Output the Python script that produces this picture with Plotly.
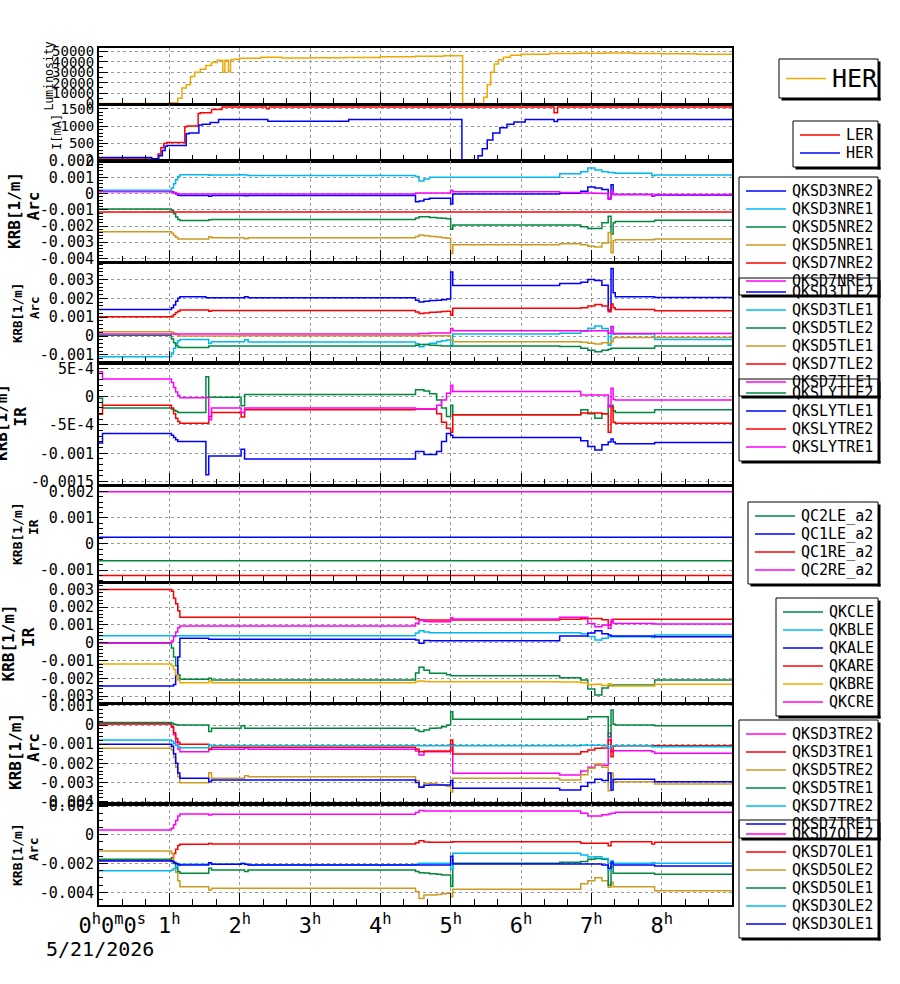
import plotly.graph_objects as go

# ---------------------------------------------------------------- data
HOUR_TICKS = [0, 1, 2, 3, 4, 5, 6, 7, 8]
HOUR_LABELS = ["\u00a0\u00a00<sup>h</sup>0<sup>m</sup>0<sup>s</sup>", "1<sup>h</sup>", "2<sup>h</sup>",
               "3<sup>h</sup>", "4<sup>h</sup>", "5<sup>h</sup>", "6<sup>h</sup>", "7<sup>h</sup>", "8<sup>h</sup>"]
DATE_LABEL = "5/21/2026"

# luminosity (hours / value)
LUMI_T = [0, 1.0, 1.12, 1.18, 1.24, 1.3, 1.36, 1.44, 1.52, 1.6, 1.68, 1.76, 1.79, 1.84, 1.87, 1.92, 2.0,
          2.3, 2.6, 3.0, 3.5, 4.0, 4.5, 4.9, 5.17, 5.47, 5.52, 5.57, 5.62, 5.68, 5.75, 5.85, 6.0, 6.4,
          6.8, 7.2, 7.6, 8.0, 8.5, 9.0]
LUMI_HER = [0, 700, 5000, 15000, 18000, 26000, 30000, 33000, 36500, 39500, 41500, 30000, 41500, 30500,
            42000, 42500, 43500, 44500, 43800, 44000, 44300, 45000, 45500, 46000, 0, 6000, 18000, 30000,
            38000, 42000, 44500, 46500, 47500, 48000, 48300, 48500, 48000, 47800, 47500, 47500]

# beam currents [mA]
LER_T = [0, 0.84, 0.88, 0.92, 0.96, 1.22, 1.25, 1.41, 1.44, 1.6, 1.75, 2.38, 2.42, 6.47, 6.52, 9.0]
LER_MA = [55, 200, 380, 500, 530, 980, 1000, 1360, 1380, 1473, 1550, 1500, 1550, 1380, 1550, 1550]
HER_T = [0, 0.75, 0.85, 0.9, 0.94, 0.97, 1.24, 1.28, 1.42, 1.47, 1.58, 1.7, 2.4, 3.55, 5.16, 5.39, 5.45,
         5.52, 5.6, 5.7, 5.8, 5.9, 6.06, 6.47, 6.52, 9.0]
HER_MA = [100, 60, 150, 300, 420, 445, 780, 800, 1030, 1050, 1100, 1190, 1140, 1190, 30, 150, 350, 600,
          800, 950, 1050, 1120, 1190, 1130, 1190, 1190]

# shared time grid (hours) for magnet strengths; values below are in units of 1e-4 [1/m]
G = [0.00, 0.05, 1.00, 1.03, 1.06, 1.09, 1.12, 1.15,
     1.52, 1.56, 1.60,
     2.02, 2.07, 2.12,
     4.50, 4.55, 4.62, 4.70, 4.80, 4.87, 4.94,
     5.00, 5.03, 5.06,
     6.55, 6.85, 6.95, 7.05, 7.15,
     7.24, 7.28, 7.31, 7.34,
     7.86, 7.90, 9.00]
T_FLAT = [0.0, 9.0]
KRB_UNIT = 1e-4

# panel 3 : Arc NRE
QKSD3NRE2 = [1.7, 1.7, 1.7, 1.2, 0.5, -0.3, -1.0, -1.2, -1.2, -1.6, -1.2, -1.2, -1.4, -1.2,
             -5.0, -4.5, -3.5, -2.9, -2.9, -2.9, -2.9, -6.5, -0.3, -0.3, 0.2, 1.5, 4.0, 3.5, 2.5,
             -2.9, 5.5, -0.6, -0.6, -1.5, -0.8, -0.8]
QKSD3NRE1 = [2.1, 2.1, 2.1, 3.5, 6.0, 8.5, 10.5, 11.6, 11.6, 11.3, 11.4, 11.6, 11.4, 11.1,
             10.5, 7.7, 9.0, 10.1, 10.1, 10.1, 10.1, 10.1, 10.1, 10.1, 12.2, 13.5, 15.8, 14.5, 13.5,
             13.0, 13.0, 12.8, 12.5, 11.0, 11.5, 11.5]
QKSD5NRE2 = [-9.5, -9.5, -9.5, -10.5, -12.5, -14.5, -16.0, -16.6, -16.6, -16.2, -16.0, -16.0, -16.0, -16.0,
             -15.0, -14.3, -14.3, -14.8, -15.0, -15.2, -15.5, -22.0, -19.4, -19.4, -19.4, -20.5, -21.6, -21.6,
             -18.0, -14.0, -25.0, -18.0, -17.2, -17.2, -16.5, -16.5]
QKSD5NRE1 = [-23.6, -23.6, -23.6, -24.5, -25.8, -27.0, -28.0, -28.0, -28.0, -26.6, -27.2, -27.2, -27.8, -27.2,
             -26.5, -25.6, -26.0, -26.5, -26.8, -27.2, -27.6, -37.0, -31.6, -31.6, -31.0, -31.5, -32.5, -33.0,
             -30.5, -24.0, -36.5, -29.0, -28.4, -28.4, -28.0, -28.0]
QKSD7NRE2 = [-11.3, -11.3]
QKSD7NRE1 = [1.1, 1.1, 1.1, 1.0, 0.6, 0.2, -0.2, -0.3, -0.3, -0.3, -0.3, -0.3, -0.3, -0.3,
             0.4, 0.4, 0.4, 0.4, 0.4, 0.4, 0.4, 2.1, 1.1, 1.1, 0.6, 0.4, 0.4, 0.2, 0.0,
             -3.5, 1.5, -0.5, -0.6, -1.2, -0.6, -0.6]

# panel 4 : Arc TLE
QKSD3TLE2 = [14.1, 14.1, 14.1, 15.0, 16.5, 18.5, 20.0, 20.8, 20.3, 20.3, 20.3, 20.3, 20.8, 20.3,
             19.0, 18.1, 18.5, 18.8, 19.0, 19.3, 19.6, 34.0, 26.8, 26.8, 27.9, 28.5, 30.0, 29.5, 27.0,
             13.8, 35.8, 23.0, 20.8, 20.8, 20.5, 20.5]
QKSD3TLE1 = [-10.9, -10.9, -10.9, -9.0, -6.5, -4.0, -2.5, -1.8, -1.8, -3.9, -3.0, -3.0, -2.0, -3.2,
             -4.0, -5.6, -4.5, -3.8, -3.0, -2.5, -2.1, -5.0, 1.1, 1.1, 1.5, 2.5, 4.1, 5.3, 4.0,
             -4.8, 5.0, 1.0, 1.1, 1.1, -1.8, -1.8]
QKSD5TLE2 = [0.5, 0.5, 0.5, -1.5, -3.5, -5.0, -5.8, -6.0, -6.0, -5.3, -5.3, -5.3, -5.3, -5.3,
             -4.8, -4.4, -4.5, -4.8, -5.0, -5.2, -5.3, -5.3, -5.3, -5.3, -5.5, -6.5, -7.5, -8.3, -7.5,
             -7.0, -6.5, -6.4, -6.5, -6.5, -5.3, -5.3]
QKSD5TLE1 = [2.3, 2.3, 2.3, 2.0, 1.5, 0.8, 0.2, 0.0, 0.0, 0.0, 0.0, 0.2, 0.2, 0.2,
             0.2, 0.2, 0.2, 0.2, 0.2, 0.2, 0.2, -2.0, -3.0, -3.0, -3.0, -3.3, -3.8, -4.2, -3.5,
             -3.9, -3.0, -1.0, -0.7, -0.7, -0.7, -0.7]
QKSD7TLE2 = [10.2, 10.2, 10.2, 10.6, 11.5, 12.5, 13.2, 13.8, 13.8, 13.2, 13.6, 13.6, 13.6, 13.6,
             12.8, 12.0, 12.3, 12.6, 12.8, 13.0, 13.2, 11.1, 14.7, 14.7, 14.7, 15.0, 16.0, 16.8, 16.0,
             12.9, 17.0, 15.0, 14.1, 14.1, 13.4, 13.4]
QKSD7TLE1 = [1.1, 1.1, 1.1, 1.1, 1.1, 1.1, 1.1, 1.1, 1.1, 1.1, 1.1, 1.1, 1.1, 1.1,
             1.1, 1.4, 1.4, 1.6, 1.6, 1.6, 1.6, 4.0, 2.8, 2.8, 2.8, 2.8, 2.8, 2.8, 2.8,
             1.5, 5.1, 1.4, 1.4, 1.4, 1.4, 1.4]

# panel 5 : IR skew
QKSLYTLE2 = [-0.3, -2.0, -2.0, -2.2, -2.4, -2.6, -2.8, -2.8, 3.5, -0.1, -0.1, -1.6, 0.4, 0.4,
             1.2, 1.2, 1.0, 0.5, -0.6, -2.0, -3.5, -1.5, -3.2, -3.2, -3.2, -2.3, -3.0, -3.8, -3.0,
             -1.5, -1.5, -2.5, -2.8, -2.8, -2.3, -2.3]
QKSLYTLE1 = [-8.2, -6.5, -6.5, -6.8, -7.2, -7.6, -7.9, -7.9, -13.8, -10.5, -10.5, -9.3, -11.0, -11.0,
             -9.7, -9.7, -10.2, -10.2, -9.7, -7.9, -6.5, -6.8, -7.2, -7.2, -7.2, -7.8, -8.8, -9.4, -8.5,
             -8.0, -7.5, -8.0, -8.3, -8.3, -8.1, -8.1]
QKSLYTRE2 = [-3.1, -1.5, -1.5, -2.0, -3.0, -3.8, -4.4, -4.7, -4.7, -3.5, -2.8, -3.6, -2.3, -2.3,
             -2.2, -2.2, -2.2, -2.2, -3.0, -4.5, -5.6, -6.3, -3.2, -3.2, -3.2, -2.9, -2.9, -2.9, -3.0,
             -6.3, -1.8, -4.5, -4.7, -4.7, -4.7, -4.7]
QKSLYTRE1 = [4.4, 3.1, 3.1, 2.5, 1.6, 0.8, 0.2, -0.2, -0.2, -4.1, -2.0, -2.8, -2.0, -2.0,
             -2.2, -2.2, -2.2, -2.2, -1.5, -0.6, 0.6, 2.0, 0.9, 0.9, 0.9, 0.3, 0.3, 0.3, 0.3,
             -1.8, 1.5, -0.5, -0.6, -0.6, -0.6, -0.6]

# panel 6 : IR final-focus correctors (constant)
QC2LE_a2 = [-6.5, -6.5]
QC1LE_a2 = [2.6, 2.6]
QC1RE_a2 = [-12.1, -12.1]
QC2RE_a2 = [20.0, 20.0]

# panel 7 : IR QK
QKCLE = [0, 0, 0, -3, -8, -13, -18, -20.6, -20.6, -20.0, -21.0, -21.0, -21.0, -21.0,
         -17.0, -13.8, -15.5, -17.2, -17.2, -17.2, -18.0, -18.5, -18.5, -18.5, -19.7, -21.0, -26.0, -29.4,
         -25.5, -24.0, -24.0, -23.8, -23.8, -23.8, -21.0, -21.0]
QKBLE = [4.0, 4.0, 4.0, 4.0, 4.0, 4.0, 4.0, 4.0, 4.0, 4.0, 4.0, 4.0, 4.0, 4.0,
         5.5, 6.7, 6.0, 5.6, 5.6, 5.6, 5.6, 5.6, 5.6, 5.6, 5.6, 5.0, 3.5, 1.5, 2.5,
         3.4, 3.4, 3.4, 3.4, 3.0, 4.3, 4.3]
QKALE = [-24.4, -24.4, -24.4, -24.4, -23.5, -18.0, -8.0, 2.5, 2.5, 2.0, 1.9, 1.9, 1.9, 1.9,
         1.5, -0.3, 1.2, 1.1, 1.1, 1.1, 1.1, 1.1, 1.1, 1.1, 3.8, 3.8, 5.5, 6.7, 5.0,
         4.3, 3.8, 3.8, 3.8, 3.8, 3.4, 3.4]
QKARE = [30, 30, 30, 29, 25, 22, 18, 14.3, 14.3, 14.3, 14.3, 14.3, 14.3, 14.3,
         13.5, 12.8, 12.8, 12.8, 12.8, 12.8, 12.8, 12.8, 12.8, 12.8, 13.2, 13.5, 13.7, 13.7, 13.0,
         10.0, 12.0, 13.2, 13.2, 13.2, 13.2, 13.2]
QKBRE = [-12.0, -12.0, -12.0, -13.0, -15.0, -18.0, -21.0, -22.5, -22.5, -21.5, -22.5, -22.5, -22.5, -22.5,
         -21.8, -21.5, -21.8, -22.0, -22.0, -22.0, -22.0, -22.0, -22.0, -22.0, -22.1, -22.5, -23.5, -23.4,
         -24.0, -23.0, -24.4, -24.4, -24.4, -24.4, -23.4, -23.4]
QKCRE = [-0.3, -0.3, -0.3, 1.0, 3.5, 6.0, 8.5, 9.4, 9.4, 9.4, 9.4, 9.4, 9.4, 9.4,
         11.0, 12.8, 12.0, 11.8, 11.8, 11.8, 11.8, 14.0, 13.3, 13.3, 14.3, 14.3, 10.9, 9.0, 10.0,
         8.1, 13.0, 10.9, 10.9, 10.9, 10.5, 10.5]

# panel 8 : Arc TRE
QKSD3TRE2 = [0.9, 0.9, 0.9, -1.0, -5.0, -9.0, -12.5, -13.9, -13.9, -12.8, -12.6, -12.6, -12.0, -12.6,
             -13.5, -15.6, -14.0, -13.9, -13.9, -13.9, -13.9, -10.0, -25.2, -25.2, -26.1, -24.0, -22.0, -20.9,
             -21.0, -4.3, -14.0, -13.4, -13.4, -14.0, -14.7, -14.7]
QKSD3TRE1 = [0.6, 0.6, 0.6, -1.0, -4.0, -7.0, -9.0, -10.0, -10.0, -12.5, -11.6, -11.6, -11.6, -11.6,
             -12.5, -13.9, -13.5, -13.5, -13.5, -13.5, -13.5, -7.8, -15.1, -15.1, -15.1, -14.0, -13.0, -12.1,
             -12.0, -7.8, -16.5, -11.0, -10.8, -10.8, -10.8, -10.8]
QKSD5TRE2 = [-12.1, -12.1, -12.1, -13.0, -17.0, -22.0, -27.0, -30.1, -30.1, -24.9, -27.8, -27.8, -26.5, -27.0,
             -29.0, -32.2, -30.5, -30.5, -31.0, -31.5, -32.0, -35.0, -27.8, -27.8, -28.7, -26.0, -22.5, -20.3,
             -22.0, -34.3, -25.0, -30.0, -29.6, -29.6, -30.8, -30.8]
QKSD5TRE1 = [1.3, 1.3, 1.3, 1.0, 0.5, 0.2, 0.0, 0.0, 0.0, -3.4, -1.7, -0.3, -1.7, -1.7,
             -2.5, -3.4, -2.5, -1.7, -1.5, -0.8, 0.0, 7.0, 3.0, 3.0, 3.0, 3.0, 4.4, 4.4, 4.4,
             -6.1, 7.9, 0.5, 0.0, 0.0, -0.3, -0.3]
QKSD7TRE2 = [-7.8, -7.8, -7.8, -8.5, -9.5, -10.5, -11.3, -11.8, -11.8, -10.4, -10.8, -10.8, -10.8, -10.8,
             -10.8, -10.8, -10.8, -10.8, -10.8, -10.8, -10.8, -10.8, -10.8, -10.8, -10.8, -10.6, -10.5, -10.5,
             -10.8, -12.0, -10.8, -10.8, -10.8, -11.3, -11.3, -11.3]
QKSD7TRE1 = [-10.0, -10.0, -10.0, -11.0, -15.0, -20.0, -25.0, -27.8, -27.8, -29.6, -28.7, -28.7, -28.7, -28.7,
             -30.0, -32.5, -31.5, -31.3, -31.3, -31.3, -31.3, -29.0, -33.0, -33.0, -33.9, -32.0, -30.0, -28.3,
             -29.0, -25.0, -34.0, -28.5, -28.3, -28.3, -29.6, -29.6]

# panel 9 : Arc OLE
QKSD7OLE2 = [3.3, 3.3, 3.3, 4.5, 7.0, 10.0, 13.0, 14.5, 14.5, 13.8, 14.3, 14.3, 14.3, 14.3,
             15.5, 16.8, 16.5, 16.6, 16.6, 16.6, 16.6, 16.6, 16.6, 16.6, 16.6, 15.0, 13.1, 13.1, 14.0,
             14.5, 15.0, 15.0, 15.6, 15.6, 15.6, 15.6]
QKSD7OLE1 = [-17.5, -17.5, -17.5, -16.0, -13.0, -10.0, -7.5, -6.6, -6.6, -6.0, -6.4, -6.4, -6.4, -6.4,
             -5.5, -4.1, -5.0, -5.2, -5.2, -5.2, -5.2, -5.2, -4.8, -4.8, -4.8, -5.9, -5.9, -5.9, -5.9,
             -7.6, -4.8, -4.8, -4.8, -6.4, -5.2, -5.2]
QKSD5OLE2 = [-11.3, -11.3, -11.3, -13.0, -19.0, -26.0, -32.0, -36.1, -36.1, -38.4, -37.2, -37.2, -37.2, -37.2,
             -39.5, -44.2, -41.9, -41.9, -41.5, -41.0, -40.7, -43.0, -37.9, -37.9, -37.9, -34.0, -32.0, -29.8,
             -32.0, -36.5, -33.0, -36.1, -36.1, -36.1, -38.9, -38.9]
QKSD5OLE1 = [-17.0, -17.0, -17.0, -18.0, -20.0, -23.0, -25.5, -26.8, -26.8, -23.3, -24.5, -24.5, -25.5, -24.5,
             -25.5, -26.3, -26.5, -27.0, -27.5, -28.0, -28.0, -36.0, -19.8, -19.8, -19.0, -18.5, -17.0, -16.4,
             -17.0, -34.9, -22.0, -26.8, -26.8, -26.8, -27.5, -27.5]
QKSD3OLE2 = [-25.0, -25.0, -25.0, -24.5, -23.5, -22.5, -21.3, -20.5, -20.5, -19.4, -20.5, -20.0, -20.5, -21.0,
             -20.5, -19.8, -19.8, -19.8, -19.8, -19.8, -19.8, -24.0, -12.9, -12.9, -12.9, -14.0, -15.5, -15.2,
             -16.5, -24.5, -18.0, -19.8, -19.8, -19.5, -19.8, -19.8]
QKSD3OLE1 = [-18.2, -18.2, -18.2, -18.5, -19.2, -20.0, -20.6, -21.0, -21.0, -19.4, -20.5, -20.0, -20.5, -21.0,
             -21.0, -21.0, -21.0, -21.0, -21.0, -21.0, -21.0, -15.0, -20.3, -20.3, -20.3, -20.3, -20.3, -20.3,
             -21.0, -23.3, -19.0, -21.0, -21.0, -21.0, -21.7, -21.7]

# y tick values / labels
LUMI_TICKS = [0, 10000, 20000, 30000, 40000, 50000]
LUMI_LABELS = ["0", "10000", "20000", "30000", "40000", "50000"]
CUR_TICKS = [0, 500, 1000, 1500]
CUR_LABELS = ["0", "500", "1000", "1500"]
P3_TICKS = [-0.004, -0.003, -0.002, -0.001, 0, 0.001, 0.002]
P3_LABELS = ["-0.004", "-0.003", "-0.002", "-0.001", "0", "0.001", "0.002"]
P4_TICKS = [-0.001, 0, 0.001, 0.002, 0.003]
P4_LABELS = ["-0.001", "0", "0.001", "0.002", "0.003"]
P5_TICKS = [-0.0015, -0.001, -0.0005, 0, 0.0005]
P5_LABELS = ["-0.0015", "-0.001", "-5E-4", "0", "5E-4"]
P6_TICKS = [-0.001, 0, 0.001, 0.002]
P6_LABELS = ["-0.001", "0", "0.001", "0.002"]
P7_TICKS = [-0.003, -0.002, -0.001, 0, 0.001, 0.002, 0.003]
P7_LABELS = ["-0.003", "-0.002", "-0.001", "0", "0.001", "0.002", "0.003"]
P8_TICKS = [-0.004, -0.003, -0.002, -0.001, 0, 0.001]
P8_LABELS = ["-0.004", "-0.003", "-0.002", "-0.001", "0", "0.001"]
P9_TICKS = [-0.004, -0.002, 0, 0.002]
P9_LABELS = ["-0.004", "-0.002", "0", "0.002"]

# ---------------------------------------------------------------- styling / layout
W, H = 900, 984
X0, X1 = 99, 732
MONO = "DejaVu Sans Mono"
BLUE, CYAN, GREEN, GOLD = "#0000ff", "#00b8f0", "#00883f", "#cc9a20"
RED, MAG, ORANGE = "#ff0000", "#ff00ff", "#f0a800"


def fx(px):
    return px / W


def fy(py):
    return 1 - py / H


def k(vals):
    return [v * KRB_UNIT for v in vals]


panels = [
    dict(top=48, bot=104, rng=[-500, 53400], tv=LUMI_TICKS, tt=LUMI_LABELS, minor=5000, fs=14,
         traces=[("HER", ORANGE, LUMI_T, LUMI_HER)],
         leg=dict(left=779, top=59, fs=25, first=19.5, pad=19.5)),
    dict(top=104.5, bot=161, rng=[-3, 1620], tv=CUR_TICKS, tt=CUR_LABELS, minor=100, fs=14,
         traces=[("LER", RED, LER_T, LER_MA), ("HER", BLUE, HER_T, HER_MA)],
         leg=dict(left=793, top=121, fs=15, first=14, pad=14)),
    dict(top=161, bot=262, rng=[-0.00422, 0.00201], tv=P3_TICKS, tt=P3_LABELS, minor=0.0002, fs=15,
         traces=[("QKSD3NRE2", BLUE, G, k(QKSD3NRE2)), ("QKSD3NRE1", CYAN, G, k(QKSD3NRE1)),
                 ("QKSD5NRE2", GREEN, G, k(QKSD5NRE2)), ("QKSD5NRE1", GOLD, G, k(QKSD5NRE1)),
                 ("QKSD7NRE2", RED, T_FLAT, k(QKSD7NRE2)), ("QKSD7NRE1", MAG, G, k(QKSD7NRE1))],
         leg=dict(left=739, top=177, fs=15, first=14, pad=14)),
    dict(top=262.5, bot=362.5, rng=[-0.0014, 0.0039], tv=P4_TICKS, tt=P4_LABELS, minor=0.0002, fs=15,
         traces=[("QKSD3TLE2", BLUE, G, k(QKSD3TLE2)), ("QKSD3TLE1", CYAN, G, k(QKSD3TLE1)),
                 ("QKSD5TLE2", GREEN, G, k(QKSD5TLE2)), ("QKSD5TLE1", GOLD, G, k(QKSD5TLE1)),
                 ("QKSD7TLE2", RED, G, k(QKSD7TLE2)), ("QKSD7TLE1", MAG, G, k(QKSD7TLE1))],
         leg=dict(left=739, top=278, fs=15, first=14, pad=14)),
    dict(top=363, bot=485, rng=[-0.00156, 0.000594], tv=P5_TICKS, tt=P5_LABELS, minor=0.0001, fs=15,
         traces=[("QKSLYTLE2", GREEN, G, k(QKSLYTLE2)), ("QKSLYTLE1", BLUE, G, k(QKSLYTLE1)),
                 ("QKSLYTRE2", RED, G, k(QKSLYTRE2)), ("QKSLYTRE1", MAG, G, k(QKSLYTRE1))],
         leg=dict(left=739, top=379, fs=15, first=14, pad=14)),
    dict(top=485.5, bot=582, rng=[-0.00146, 0.00224], tv=P6_TICKS, tt=P6_LABELS, minor=0.0002, fs=15,
         traces=[("QC2LE_a2", GREEN, T_FLAT, k(QC2LE_a2)), ("QC1LE_a2", BLUE, T_FLAT, k(QC1LE_a2)),
                 ("QC1RE_a2", RED, T_FLAT, k(QC1RE_a2)), ("QC2RE_a2", MAG, T_FLAT, k(QC2RE_a2))],
         leg=dict(left=748, top=502, fs=15, first=14, pad=14)),
    dict(top=582.5, bot=703, rng=[-0.00339, 0.00339], tv=P7_TICKS, tt=P7_LABELS, minor=0.0002, fs=15,
         traces=[("QKCLE", GREEN, G, k(QKCLE)), ("QKBLE", CYAN, G, k(QKBLE)), ("QKALE", BLUE, G, k(QKALE)),
                 ("QKARE", RED, G, k(QKARE)), ("QKBRE", ORANGE, G, k(QKBRE)), ("QKCRE", MAG, G, k(QKCRE))],
         leg=dict(left=776, top=598, fs=15, first=14, pad=14)),
    dict(top=703.5, bot=803.5, rng=[-0.0041, 0.00113], tv=P8_TICKS, tt=P8_LABELS, minor=0.0002, fs=15,
         traces=[("QKSD3TRE2", MAG, G, k(QKSD3TRE2)), ("QKSD3TRE1", RED, G, k(QKSD3TRE1)),
                 ("QKSD5TRE2", GOLD, G, k(QKSD5TRE2)), ("QKSD5TRE1", GREEN, G, k(QKSD5TRE1)),
                 ("QKSD7TRE2", CYAN, G, k(QKSD7TRE2)), ("QKSD7TRE1", BLUE, G, k(QKSD7TRE1))],
         leg=dict(left=739, top=720, fs=15, first=14, pad=14)),
    dict(top=804, bot=905, rng=[-0.00488, 0.00214], tv=P9_TICKS, tt=P9_LABELS, minor=0.0005, fs=15,
         traces=[("QKSD7OLE2", MAG, G, k(QKSD7OLE2)), ("QKSD7OLE1", RED, G, k(QKSD7OLE1)),
                 ("QKSD5OLE2", GOLD, G, k(QKSD5OLE2)), ("QKSD5OLE1", GREEN, G, k(QKSD5OLE1)),
                 ("QKSD3OLE2", CYAN, G, k(QKSD3OLE2)), ("QKSD3OLE1", BLUE, G, k(QKSD3OLE1))],
         leg=dict(left=739, top=820, fs=15, first=14, pad=14)),
]

# rotated y titles: (text, x_px, y_px, size, bold)
YTITLES = [
    ("Luminosity", 48.5, 76, 11.5, False),
    ("I[mA]", 57, 132, 12, False),
    ("KRB[1/m]", 15, 211, 16, True), ("Arc", 32.5, 206, 16, True),
    ("KRB[1/m]", 17, 313, 12.5, True), ("Arc", 34, 308, 12.5, True),
    ("KRB[1/m]", 1, 423, 16, True), ("IR", 19.5, 417, 16, True),
    ("KRB[1/m]", 17, 534, 13, True), ("IR", 33, 527, 13, True),
    ("KRB[1/m]", 7.5, 643, 16, True), ("IR", 28, 637, 16, True),
    ("KRB[1/m]", 15, 752, 16, True), ("Arc", 33, 748, 16, True),
    ("KRB[1/m]", 17, 855, 13, True), ("Arc", 33, 850, 13, True),
]

fig = go.Figure()
layout = dict(width=W, height=H, autosize=False, margin=dict(l=0, r=0, t=0, b=0, pad=0),
              paper_bgcolor="white", plot_bgcolor="white", showlegend=False)
shapes, annotations = [], []
GRID = dict(showgrid=True, gridcolor="#9a9a9a", griddash="3px,3px", gridwidth=1)
LEG_RIGHT = 878
n = len(panels)

for i, p in enumerate(panels, start=1):
    sfx = "" if i == 1 else str(i)
    xa, ya = "xaxis" + sfx, "yaxis" + sfx
    layout[xa] = dict(domain=[fx(X0), fx(X1)], range=[0, 9], anchor="y" + sfx, automargin=False,
                      tickmode="array", tickvals=HOUR_TICKS, ticktext=HOUR_LABELS,
                      showticklabels=(i == n), ticks="inside", ticklen=12, tickwidth=1, tickcolor="black",
                      minor=dict(tickmode="linear", tick0=0, dtick=1 / 3, ticks="inside", ticklen=6,
                                 tickwidth=1, tickcolor="black", showgrid=False),
                      showline=True, mirror=True, linecolor="black", linewidth=2, zeroline=False,
                      tickfont=dict(family=MONO, size=22, color="black"), **GRID)
    if i > 1:
        layout[xa]["matches"] = "x"
    layout[ya] = dict(domain=[fy(p["bot"]), fy(p["top"])], range=p["rng"], anchor="x" + sfx, automargin=False,
                      tickmode="array", tickvals=p["tv"], ticktext=p["tt"],
                      ticks="inside", ticklen=9, tickwidth=1, tickcolor="black",
                      minor=dict(tickmode="linear", tick0=0, dtick=p["minor"], ticks="inside", ticklen=4,
                                 tickwidth=1, tickcolor="black", showgrid=False),
                      showline=True, mirror=True, linecolor="black", linewidth=2, zeroline=False,
                      tickfont=dict(family=MONO, size=p["fs"], color="black"), **GRID)
    for name, color, tt, vv in p["traces"]:
        fig.add_trace(go.Scatter(x=tt, y=vv, name=name, mode="lines", line=dict(color=color, width=1.5, shape="hv"),
                                 xaxis="x" + sfx, yaxis="y" + sfx, hoverinfo="skip"))

    # legend box drawn with shapes + text
    lg = p["leg"]
    ne = len(p["traces"])
    top = lg["top"]
    bot = top + lg["first"] + 18 * (ne - 1) + lg["pad"]
    left = lg["left"]
    shapes.append(dict(type="rect", xref="paper", yref="paper", x0=fx(LEG_RIGHT), x1=fx(LEG_RIGHT + 2.5),
                       y0=fy(bot + 2.5), y1=fy(top + 2.5), fillcolor="black", line=dict(width=0)))
    shapes.append(dict(type="rect", xref="paper", yref="paper", x0=fx(left + 2.5), x1=fx(LEG_RIGHT + 2.5),
                       y0=fy(bot + 2.5), y1=fy(bot), fillcolor="black", line=dict(width=0)))
    shapes.append(dict(type="rect", xref="paper", yref="paper", x0=fx(left), x1=fx(LEG_RIGHT),
                       y0=fy(bot), y1=fy(top), fillcolor="rgba(0,0,0,0)", line=dict(color="black", width=1)))
    for j, (name, color, _, _) in enumerate(p["traces"]):
        ey = top + lg["first"] + 18 * j
        shapes.append(dict(type="line", xref="paper", yref="paper", x0=fx(left + 7), x1=fx(left + 47),
                           y0=fy(ey), y1=fy(ey), line=dict(color=color, width=1.5)))
        annotations.append(dict(text=name, x=fx(left + 52), y=fy(ey), xref="paper", yref="paper",
                                xanchor="left", yanchor="middle", showarrow=False, borderpad=0,
                                font=dict(family=MONO, size=lg["fs"], color="black")))

for text, xp, yp, size, bold in YTITLES:
    annotations.append(dict(text=("<b>%s</b>" % text) if bold else text, x=fx(xp), y=fy(yp),
                            xref="paper", yref="paper", xanchor="center", yanchor="middle",
                            textangle=-90, showarrow=False, borderpad=0,
                            font=dict(family=MONO, size=size, color="black")))

annotations.append(dict(text=DATE_LABEL, x=fx(45), y=fy(949), xref="paper", yref="paper",
                        xanchor="left", yanchor="middle", showarrow=False, borderpad=0,
                        font=dict(family=MONO, size=20, color="black")))

layout["shapes"] = shapes
layout["annotations"] = annotations
fig.update_layout(**layout)
fig.write_html("out.html", config={"displayModeBar": False})
